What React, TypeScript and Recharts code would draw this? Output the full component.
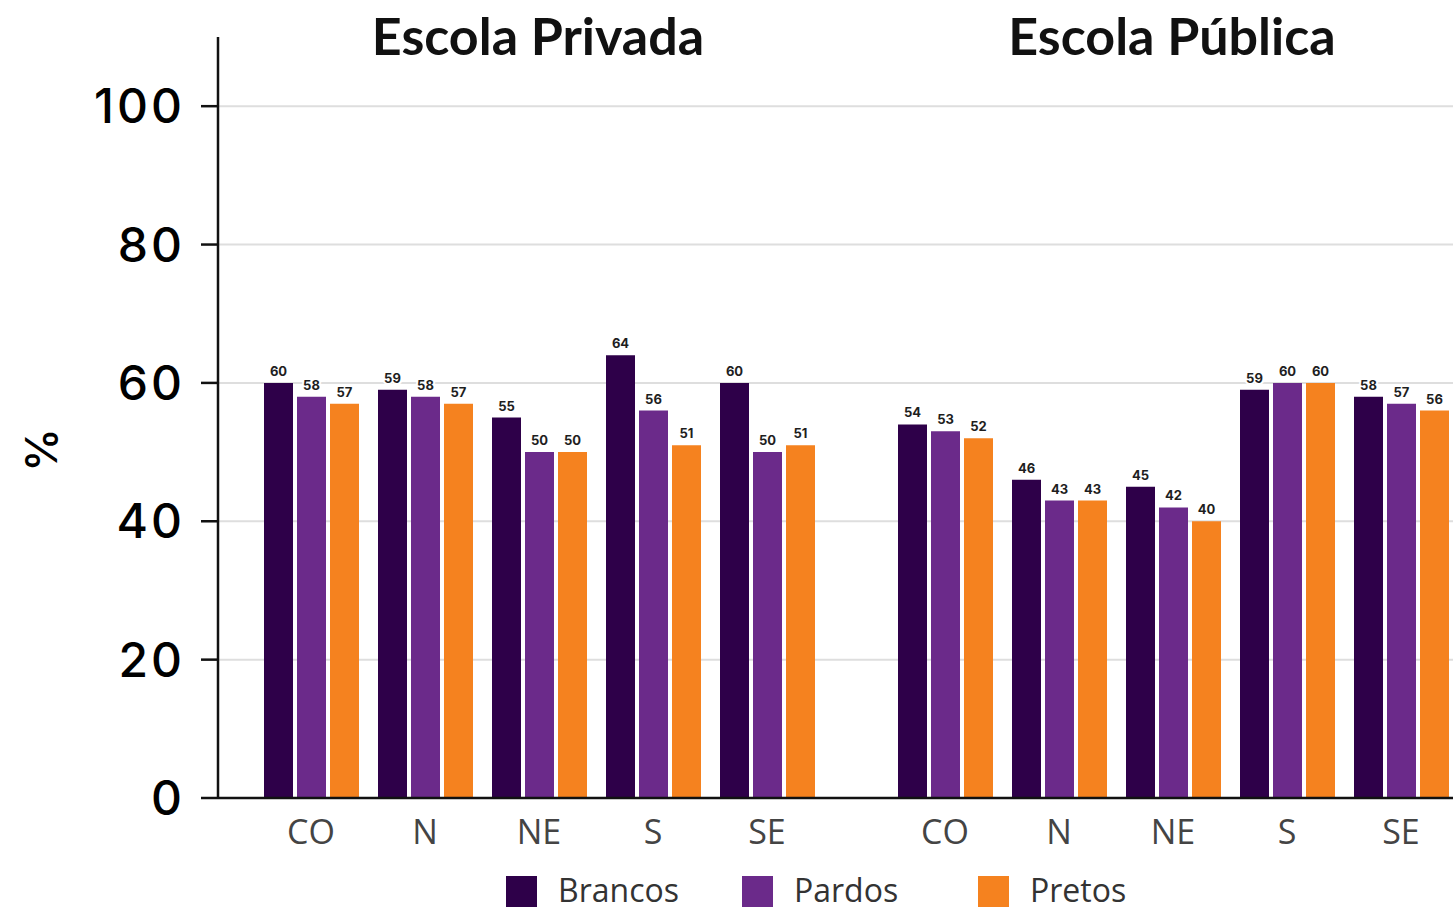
import React from "react";
import { BarChart, Bar, XAxis, YAxis, CartesianGrid, LabelList } from "recharts";

const regions = ["CO", "N", "NE", "S", "SE"];
const seriesNames = ["Brancos", "Pardos", "Pretos"];
const seriesColors = ["#2e0049", "#6b2a8a", "#f5821f"];
const yTicks = [0, 20, 40, 60, 80, 100];

const privadaBrancos = [60, 59, 55, 64, 60];
const privadaPardos = [58, 58, 50, 56, 50];
const privadaPretos = [57, 57, 50, 51, 51];

const publicaBrancos = [54, 46, 45, 59, 58];
const publicaPardos = [53, 43, 42, 60, 57];
const publicaPretos = [52, 43, 40, 60, 56];

const buildRows = (a: number[], b: number[], c: number[]) =>
  regions.map((r, i) => ({ region: r, Brancos: a[i], Pardos: b[i], Pretos: c[i] }));

const privadaData = buildRows(privadaBrancos, privadaPardos, privadaPretos);
const publicaData = buildRows(publicaBrancos, publicaPardos, publicaPretos);

const CHART_H = 858;
const MARGIN = { top: 37, right: 0, bottom: 0, left: 0 };

const labelStyle = {
  fontFamily: "Inter, 'DejaVu Sans', sans-serif",
  fontSize: 13,
  fontWeight: 700,
  fill: "#1e1e1e",
  stroke: "#ffffff",
  strokeWidth: 4,
  paintOrder: "stroke" as const,
};

const xTick = {
  fontFamily: "'Open Sans', sans-serif",
  fontSize: 34,
  fill: "#444444",
};

const renderBars = () =>
  seriesNames.map((name, i) => (
    <Bar key={name} dataKey={name} fill={seriesColors[i]} barSize={29} isAnimationActive={false}>
      <LabelList dataKey={name} position="top" offset={7} style={labelStyle} />
    </Bar>
  ));

const PercentLabel = () => (
  <text
    x={41}
    y={450}
    transform="rotate(-90 41 450)"
    textAnchor="middle"
    dominantBaseline="central"
    style={{ fontFamily: "Inter, sans-serif", fontSize: 44, fontWeight: 500, fill: "#000" }}
  >
    %
  </text>
);

const titleStyle: React.CSSProperties = {
  position: "absolute",
  top: 4,
  fontFamily: "Lato, sans-serif",
  fontWeight: 700,
  fontSize: 52,
  color: "#111",
  lineHeight: "62px",
  transform: "translateX(-50%)",
  whiteSpace: "nowrap",
};

const gridValues = [20, 40, 60, 80, 100];

export default function App() {
  return (
    <div
      style={{
        position: "absolute",
        left: 0,
        top: 0,
        width: 1453,
        height: 913,
        overflow: "hidden",
        background: "#ffffff",
      }}
    >
      <div style={{ position: "absolute", left: 0, top: 0 }}>
        <BarChart
          width={856}
          height={CHART_H}
          data={privadaData}
          margin={MARGIN}
          barGap={4}
          barCategoryGap={9}
        >
          <CartesianGrid
            vertical={false}
            stroke="#dedede"
            strokeWidth={2}
            horizontalValues={gridValues}
          />
          <XAxis
            dataKey="region"
            padding={{ left: 36, right: 32 }}
            tickLine={false}
            tickSize={0}
            tickMargin={22}
            height={60}
            stroke="#111"
            strokeWidth={2.5}
            tick={xTick}
            interval={0}
          />
          <YAxis
            width={218}
            domain={[0, 110]}
            ticks={yTicks}
            allowDataOverflow
            tickSize={17}
            tickMargin={16}
            stroke="#111"
            strokeWidth={2.5}
            tick={{
              fontFamily: "Inter, sans-serif",
              fontSize: 48,
              fontWeight: 500,
              fill: "#000",
              letterSpacing: 3,
            }}
            label={{ content: () => <PercentLabel /> }}
          />
          {renderBars()}
        </BarChart>
      </div>
      <div style={{ position: "absolute", left: 856, top: 0 }}>
        <BarChart
          width={602}
          height={CHART_H}
          data={publicaData}
          margin={MARGIN}
          barGap={4}
          barCategoryGap={9}
        >
          <CartesianGrid
            vertical={false}
            stroke="#dedede"
            strokeWidth={2}
            horizontalValues={gridValues}
          />
          <XAxis
            dataKey="region"
            padding={{ left: 32, right: 0 }}
            tickLine={false}
            tickSize={0}
            tickMargin={22}
            height={60}
            stroke="#111"
            strokeWidth={2.5}
            tick={xTick}
            interval={0}
          />
          <YAxis hide width={0} domain={[0, 110]} ticks={yTicks} allowDataOverflow />
          {renderBars()}
        </BarChart>
      </div>
      <div style={{ ...titleStyle, left: 538 }}>Escola Privada</div>
      <div style={{ ...titleStyle, left: 1172 }}>Escola Pública</div>
      <div style={{ position: "absolute", left: 506, top: 875, display: "flex" }}>
        {seriesNames.map((name, i) => (
          <div key={name} style={{ display: "flex", alignItems: "center", width: 236 }}>
            <div style={{ width: 31, height: 31, background: seriesColors[i], marginRight: 21 }} />
            <span
              style={{
                fontFamily: "'Open Sans', sans-serif",
                fontSize: 32,
                color: "#333",
                lineHeight: "32px",
                position: "relative",
                top: -1,
              }}
            >
              {name}
            </span>
          </div>
        ))}
      </div>
    </div>
  );
}
